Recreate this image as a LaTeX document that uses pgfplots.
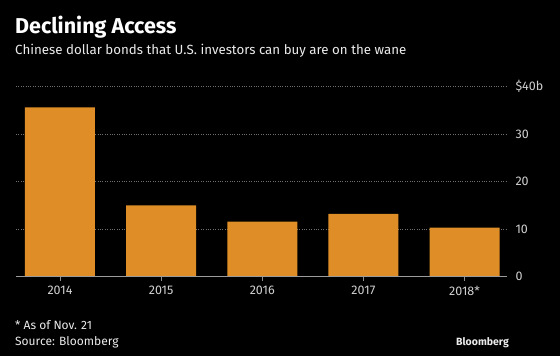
\documentclass[border=0pt]{standalone}
\usepackage{pgfplots}
\pgfplotsset{compat=1.18}
\usepackage{fontspec}
\setmainfont{Fira Sans}
\definecolor{barorange}{HTML}{DF8D26}
\definecolor{ticktext}{HTML}{D0D0D0}
\definecolor{gridgray}{HTML}{707070}
\begin{document}
\begin{tikzpicture}
\fill[black] (0pt,0pt) rectangle (560pt,-356pt);
\node[anchor=base west, text=white, font=\fontsize{21.5}{24}\selectfont\bfseries, inner sep=0] at (15pt,-33pt) {Declining Access};
\node[anchor=base west, text=white!92!black, font=\fontsize{13.3}{16}\selectfont, inner sep=0] at (15pt,-54pt) {Chinese dollar bonds that U.S. investors can buy are on the wane};
\begin{axis}[
  at={(16pt,-276.7pt)}, anchor=south west,
  scale only axis, width=491pt, height=190.2pt,
  xmin=-0.435, xmax=4.42, ymin=0, ymax=40,
  ybar, bar width=70pt,
  axis x line*=bottom, axis y line*=right,
  axis line style={draw=none},
  xtick={0,1,2,3,4},
  xticklabels={2014,2015,2016,2017,2018*},
  ytick={0,10,20,30,40},
  yticklabels={0,10,20,30,\$40b},
  ymajorgrids, grid style={gridgray, dash pattern=on 0.8pt off 1.6pt, line width=0.7pt},
  major tick length=4pt,
  xtick style={draw=gridgray!80!white, line width=0.6pt},
  xtick align=outside,
  ytick style={draw=none},
  tick label style={text=ticktext, font=\fontsize{12.5}{14}\selectfont},
  yticklabel style={anchor=west, xshift=5pt},
  xticklabel style={yshift=-2pt},
  /pgf/number format/assume math mode=true,
  clip=false,
]
\addplot[fill=barorange, draw=none] coordinates {(0,35.6) (1,15.0) (2,11.6) (3,13.2) (4,10.3)};
\draw[gridgray!70!white, line width=0.9pt] (axis cs:-0.435,0) -- (axis cs:4.42,0);
\end{axis}
\node[anchor=base west, text=white!92!black, font=\fontsize{12}{14}\selectfont, inner sep=0] at (15pt,-329pt) {* As of Nov. 21};
\node[anchor=base west, text=white!92!black, font=\fontsize{12}{14}\selectfont, inner sep=0] at (15pt,-345pt) {Source: Bloomberg};
\node[anchor=base east, text=white!92!black, font=\fontsize{10.5}{12}\selectfont\bfseries, inner sep=0] at (509pt,-345pt) {Bloomberg};
\end{tikzpicture}
\end{document}
